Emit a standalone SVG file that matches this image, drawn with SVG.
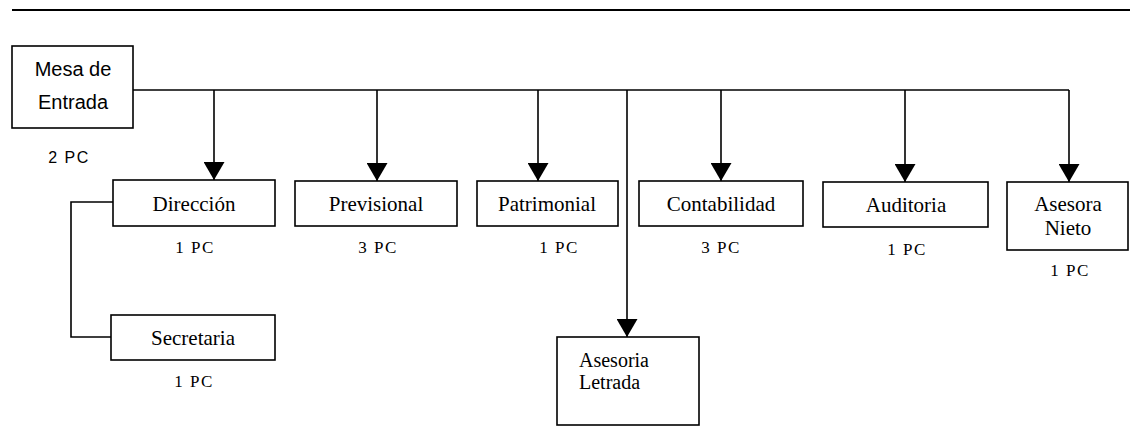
<svg xmlns="http://www.w3.org/2000/svg" width="1130" height="426" viewBox="0 0 1130 426">
<style>
.box{fill:#fff;stroke:#000;stroke-width:1.6}
.ln{fill:none;stroke:#000;stroke-width:1.6}
.sans{font-family:"Liberation Sans",Arial,sans-serif;fill:#000}
.serif{font-family:"Liberation Serif","Times New Roman",serif;fill:#000}
.t{font-size:21px;text-anchor:middle}
.pc{font-size:17px;text-anchor:middle;letter-spacing:1.5px}
</style>
<defs>
<marker id="ah" markerUnits="userSpaceOnUse" markerWidth="18" markerHeight="21" refX="18" refY="10.5" orient="auto" viewBox="0 0 18 21">
<path d="M0,0 L18,10.5 L0,21 Z" fill="#000"/>
</marker>
</defs>
<line x1="12" y1="10" x2="1130" y2="10" stroke="#000" stroke-width="2"/>
<g id="connectors">
<path class="ln" d="M133,90 H1069"/>
<line class="ln" x1="214" y1="90" x2="214" y2="180" marker-end="url(#ah)"/>
<line class="ln" x1="377" y1="90" x2="377" y2="181" marker-end="url(#ah)"/>
<line class="ln" x1="538" y1="90" x2="538" y2="181" marker-end="url(#ah)"/>
<line class="ln" x1="627" y1="90" x2="627" y2="337" marker-end="url(#ah)"/>
<line class="ln" x1="721" y1="90" x2="721" y2="181" marker-end="url(#ah)"/>
<line class="ln" x1="905" y1="90" x2="905" y2="182" marker-end="url(#ah)"/>
<path class="ln" d="M1069,90 V182" marker-end="url(#ah)"/>
<path class="ln" d="M113,202 H71 V337 H111"/>
</g>
<g id="mesa">
<rect class="box" x="12" y="46" width="121" height="82"/>
<text class="sans" x="73" y="76" font-size="20" text-anchor="middle">Mesa de</text>
<text class="sans" x="73" y="109" font-size="20" text-anchor="middle">Entrada</text>
<text class="sans" x="69" y="163" font-size="16" text-anchor="middle" letter-spacing="1.5">2 PC</text>
</g>
<g id="direccion">
<rect class="box" x="113" y="180" width="162" height="46"/>
<text class="serif t" x="194" y="211">Dirección</text>
<text class="serif pc" x="195" y="253">1 PC</text>
</g>
<g id="previsional">
<rect class="box" x="295" y="181" width="162" height="45"/>
<text class="serif t" x="376" y="211">Previsional</text>
<text class="serif pc" x="378" y="253">3 PC</text>
</g>
<g id="patrimonial">
<rect class="box" x="477" y="181" width="141" height="45"/>
<text class="serif t" x="547" y="211">Patrimonial</text>
<text class="serif pc" x="559" y="253">1 PC</text>
</g>
<g id="contabilidad">
<rect class="box" x="639" y="181" width="164" height="45"/>
<text class="serif t" x="721" y="211">Contabilidad</text>
<text class="serif pc" x="721" y="253">3 PC</text>
</g>
<g id="auditoria">
<rect class="box" x="823" y="182" width="165" height="45"/>
<text class="serif t" x="906" y="212">Auditoria</text>
<text class="serif pc" x="907" y="255">1 PC</text>
</g>
<g id="asesora-nieto">
<rect class="box" x="1007" y="182" width="121" height="68"/>
<text class="serif t" x="1068" y="211">Asesora</text>
<text class="serif t" x="1068" y="235">Nieto</text>
<text class="serif pc" x="1070" y="276">1 PC</text>
</g>
<g id="secretaria">
<rect class="box" x="111" y="315" width="164" height="45"/>
<text class="serif t" x="193" y="345">Secretaria</text>
<text class="serif pc" x="194" y="387">1 PC</text>
</g>
<g id="asesoria-letrada">
<rect class="box" x="557" y="337" width="142" height="88"/>
<text class="serif" x="579" y="367" font-size="20">Asesoria</text>
<text class="serif" x="579" y="389" font-size="20">Letrada</text>
</g>
</svg>
